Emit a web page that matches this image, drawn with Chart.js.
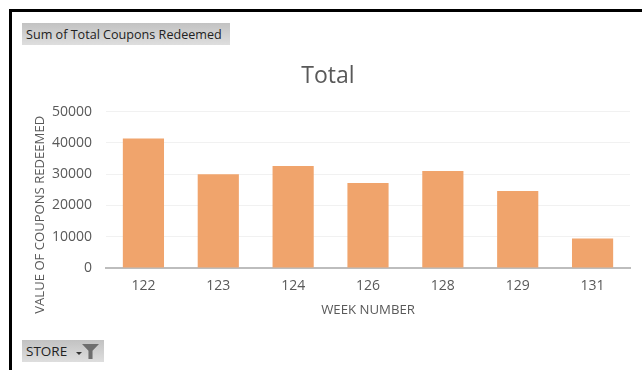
<!DOCTYPE html>
<html>
<head>
<meta charset="utf-8">
<style>
  html, body { margin: 0; padding: 0; background: #fff; width: 642px; height: 370px; overflow: hidden; }
  .bar-top { position: absolute; left: 9px; top: 9px; width: 633px; height: 3px; background: #000; }
  .bar-left { position: absolute; left: 9px; top: 9px; width: 3px; height: 361px; background: #000; }
  #wrap { position: absolute; left: 14px; top: 12px; width: 628px; height: 358px; }
  .chip {
    position: absolute; left: 22px; height: 22px; line-height: 23px; color: #222;
    font-family: "Open Sans", sans-serif; font-size: 12.6px; padding-left: 4px;
    background: linear-gradient(to bottom, #c2c2c2, #dedede);
  }
  #chip-sum { top: 23px; width: 204px; }
  #chip-store { top: 340px; width: 78px; font-size: 13.5px; }
  #arrow { position: absolute; left: 54px; top: 12px; width: 0; height: 0; border: 3px solid transparent; border-top: 3px solid #333; }
  #funnel { position: absolute; left: 60px; top: 4px; width: 17px; height: 15px; background: #6e6e6e; clip-path: polygon(0 0, 100% 0, 62% 45%, 62% 100%, 38% 100%, 38% 45%); }
</style>
</head>
<body>
<div class="bar-top"></div>
<div class="bar-left"></div>
<div id="wrap"><canvas id="chart"></canvas></div>
<div class="chip" id="chip-sum">Sum of Total Coupons Redeemed</div>
<div class="chip" id="chip-store">STORE<div id="arrow"></div><div id="funnel"></div></div>
<script src="https://cdn.jsdelivr.net/npm/chart.js@4"></script>
<script>
const weeks = ["122", "123", "124", "126", "128", "129", "131"];
const coupons = [41400, 30000, 32600, 27200, 31000, 24600, 9400];
const yTicks = [0, 10000, 20000, 30000, 40000, 50000];

const grey = "#595959";
const font = "'Open Sans', sans-serif";

// the y axis title sits lower than the middle of the plot in the original
const lowerYTitle = {
  id: "lowerYTitle",
  beforeDraw(chart) {
    const y = chart.scales.y;
    if (y.drawTitleOrig) return;
    y.drawTitleOrig = y.drawTitle;
    y.drawTitle = function () {
      this.ctx.save();
      this.ctx.translate(0, 25);
      this.drawTitleOrig();
      this.ctx.restore();
    };
  }
};

new Chart(document.getElementById("chart"), {
  type: "bar",
  data: {
    labels: weeks,
    datasets: [{
      label: "Total",
      data: coupons,
      backgroundColor: "#f0a46c",
      barPercentage: 0.55,
      categoryPercentage: 1
    }]
  },
  plugins: [lowerYTitle],
  options: {
    responsive: true,
    maintainAspectRatio: false,
    animation: false,
    layout: { padding: { left: 12, right: 12, top: 0, bottom: 52 } },
    plugins: {
      legend: { display: false },
      title: {
        display: true,
        text: "Total",
        color: grey,
        font: { family: font, size: 23, weight: "normal" },
        padding: { top: 51, bottom: 21 }
      }
    },
    scales: {
      x: {
        grid: { display: false, drawTicks: false },
        border: { color: "#bdbdbd", width: 2 },
        ticks: { color: grey, font: { family: font, size: 14 }, padding: 10, maxRotation: 0 },
        title: {
          display: true,
          text: "WEEK NUMBER",
          color: grey,
          font: { family: font, size: 13.2 },
          padding: { top: 4, bottom: 0 }
        },
        afterFit: scale => { scale.height = 50; }
      },
      y: {
        min: 0,
        max: 50000,
        afterBuildTicks: scale => { scale.ticks = yTicks.map(v => ({ value: v })); },
        grid: { color: "#f1f1f1", drawTicks: false },
        border: { display: false },
        ticks: {
          color: grey,
          font: { family: font, size: 14 },
          padding: 14,
          callback: v => String(v)
        },
        title: {
          display: true,
          text: "VALUE OF COUPONS REDEEMED",
          color: grey,
          font: { family: font, size: 13.1 },
          padding: { top: 6, bottom: 0 }
        },
        afterFit: scale => { scale.width = 80; }
      }
    }
  }
});
</script>
</body>
</html>
